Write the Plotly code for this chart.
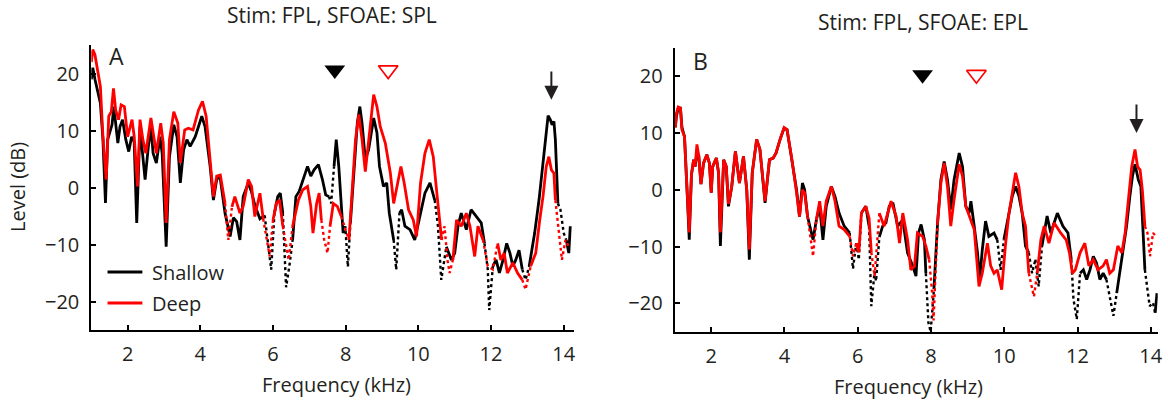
import plotly.graph_objects as go

# ---------------- data ----------------
# Panel A: Stim FPL, SFOAE in SPL
a_shallow_f = [1.00, 1.04, 1.10, 1.18, 1.25, 1.32, 1.39, 1.45, 1.52, 1.57, 1.62, 1.67, 1.73, 1.79, 1.86, 1.95,
               2.03, 2.11, 2.18, 2.25, 2.34, 2.41, 2.48, 2.57, 2.64, 2.70, 2.79, 2.89, 2.95, 3.06, 3.15, 3.27,
               3.36, 3.45, 3.54, 3.63, 3.72, 3.86, 4.04, 4.13, 4.27, 4.36, 4.45, 4.54, 4.68, 4.82, 4.91, 5.00,
               5.09, 5.18, 5.32, 5.41, 5.50, 5.64, 5.77, 5.86, 5.95, 6.04, 6.13, 6.20, 6.27, 6.36, 6.45, 6.54,
               6.63, 6.72, 6.82, 6.95, 7.04, 7.13, 7.25, 7.36, 7.45, 7.54, 7.60, 7.68, 7.74, 7.81, 7.88, 7.93,
               7.99, 8.06, 8.13, 8.23, 8.32, 8.39, 8.45, 8.54, 8.63, 8.77, 8.86, 8.93, 9.04, 9.13, 9.20, 9.32,
               9.39, 9.48, 9.54, 9.63, 9.77, 9.90, 10.04, 10.18, 10.32, 10.45, 10.54, 10.63, 10.77, 10.91, 11.00,
               11.09, 11.18, 11.32, 11.45, 11.59, 11.73, 11.82, 11.91, 11.95, 12.05, 12.14, 12.23, 12.33, 12.43,
               12.52, 12.60, 12.68, 12.77, 12.86, 12.95, 13.05, 13.13, 13.20, 13.32, 13.41, 13.50, 13.57, 13.63,
               13.68, 13.73, 13.77, 13.84, 13.91, 14.00, 14.07, 14.14, 14.18]
a_shallow_db = [19.0, 21.0, 19.0, 17.0, 14.8, 8.4, -2.7, 8.4, 10.1, 11.0, 14.2, 10.7, 7.8, 10.7, 11.9, 8.4,
                6.3, 8.9, 8.0, -6.2, 10.7, 6.0, 1.4, 7.2, 10.7, 6.0, 4.3, 8.9, 6.0, -10.4, 5.4, 11.0,
                8.9, 0.8, 6.6, 8.4, 7.2, 8.9, 12.5, 10.7, 3.7, -2.2, 1.4, 2.0, -4.5, -8.6, -5.3, -6.0,
                -9.2, -1.6, 0.8, -0.8, -3.1, -5.5, -4.9, -9.2, -14.4, -4.5, -1.6, -1.0, -4.5, -17.5, -13.8, -9.2,
                -1.6, -0.7, 1.4, 3.7, 2.0, 3.1, 4.0, 1.4, -1.3, -1.6, -2.8, 3.7, 8.4, 3.7, -4.5, -8.0,
                -6.8, -13.9, -6.2, 2.5, 11.3, 14.2, 11.3, 4.9, 6.6, 12.2, 9.6, 3.7, 0.2, 0.8, -4.5, -9.2,
                -14.4, -4.5, -3.9, -6.8, -7.4, -9.2, -5.1, -1.0, 0.8, -2.2, -6.8, -16.2, -10.4, -12.7, -11.5,
                -6.8, -4.5, -7.4, -3.9, -5.1, -6.2, -9.8, -14.4, -21.5, -13.8, -12.7, -15.0, -12.7, -9.8,
                -11.5, -13.8, -12.7, -11.0, -14.4, -16.2, -13.8, -11.0, -8.0, -2.2, 3.1, 9.5, 12.6, 11.9,
                11.0, 11.6, 8.4, -2.8, -3.9, -8.0, -9.2, -11.5, -6.8]
a_shallow_dotted = [(5.82, 5.97), (6.33, 6.47), (7.58, 7.62), (7.97, 8.08), (9.37, 9.41), (10.52, 10.65),
                    (11.89, 11.97), (12.93, 12.97), (13.89, 14.02)]

a_deep_f = [1.00, 1.04, 1.10, 1.18, 1.25, 1.32, 1.41, 1.48, 1.55, 1.61, 1.67, 1.75, 1.82, 1.91, 2.00, 2.12,
            2.18, 2.27, 2.34, 2.42, 2.50, 2.64, 2.72, 2.79, 2.91, 2.98, 3.06, 3.15, 3.27, 3.38, 3.45, 3.57,
            3.67, 3.80, 3.95, 4.06, 4.16, 4.27, 4.36, 4.45, 4.55, 4.68, 4.77, 4.87, 4.95, 5.09, 5.18, 5.32,
            5.41, 5.50, 5.64, 5.73, 5.82, 5.91, 6.00, 6.09, 6.18, 6.27, 6.43, 6.54, 6.63, 6.70, 6.82, 6.95,
            7.04, 7.10, 7.20, 7.27, 7.33, 7.41, 7.50, 7.57, 7.66, 7.77, 7.88, 7.97, 8.09, 8.18, 8.27, 8.36,
            8.45, 8.54, 8.63, 8.77, 8.86, 8.95, 9.09, 9.23, 9.32, 9.42, 9.52, 9.61, 9.73, 9.86, 9.95, 10.06,
            10.18, 10.30, 10.41, 10.50, 10.64, 10.72, 10.80, 10.86, 10.95, 11.05, 11.18, 11.32, 11.42, 11.55,
            11.64, 11.78, 11.91, 12.05, 12.18, 12.27, 12.36, 12.45, 12.60, 12.73, 12.86, 12.95, 13.09, 13.23,
            13.34, 13.43, 13.52, 13.59, 13.66, 13.73, 13.77, 13.86, 13.95, 14.05, 14.14]
a_deep_db = [22.0, 24.2, 23.3, 20.0, 17.7, 9.0, 1.4, 12.5, 13.3, 17.4, 13.6, 11.9, 14.5, 14.2, 8.9, 11.9,
             9.0, 0.2, 11.9, 8.4, 6.0, 12.2, 8.4, 6.0, 11.3, 7.8, -6.2, 8.4, 13.3, 11.3, 4.3, 10.1,
             10.4, 10.1, 13.6, 15.1, 12.5, 4.8, -1.6, 2.0, 2.2, -2.8, -9.2, -3.4, -1.6, -4.5, -3.3, 1.4,
             0.2, -5.1, -1.0, -5.5, -9.2, -12.1, -5.7, -2.8, -2.2, -6.8, -12.7, -6.8, -4.5, -2.2, -0.4, 0.2,
             -3.3, -8.0, -2.8, -1.0, -5.7, -9.2, -11.5, -6.8, -2.8, -3.3, -5.1, -6.8, -9.2, -1.0, 8.4, 12.8,
             8.4, 2.8, 8.4, 16.3, 14.2, 10.7, 7.8, 2.5, -2.8, 0.2, 3.7, 0.8, -3.9, -5.7, -8.6, 0.8,
             6.0, 8.4, 5.4, -0.4, -9.2, -6.8, -12.7, -15.0, -12.7, -5.7, -6.8, -4.5, -6.8, -12.1,
             -6.8, -9.2, -13.8, -14.4, -9.8, -12.7, -11.5, -15.0, -13.2, -15.0, -16.2, -17.9, -13.8, -11.5,
             -5.7, -1.6, 3.7, 5.4, 3.1, 2.5, -2.2, -7.4, -12.7, -9.2, -10.4]
a_deep_dotted = [(4.75, 4.79), (5.80, 5.93), (6.40, 6.45), (7.39, 7.52), (7.95, 7.99), (10.70, 10.88),
                 (11.89, 12.07), (12.93, 12.97), (13.84, 14.20)]

# Panel B: Stim FPL, SFOAE in EPL
b_shallow_f = [1.02, 1.05, 1.10, 1.16, 1.20, 1.27, 1.34, 1.40, 1.46, 1.52, 1.56, 1.61, 1.66, 1.72, 1.79, 1.88,
               1.95, 2.00, 2.04, 2.14, 2.20, 2.25, 2.34, 2.41, 2.47, 2.56, 2.66, 2.77, 2.88, 2.97, 3.04, 3.12,
               3.24, 3.33, 3.47, 3.59, 3.69, 3.77, 3.88, 3.99, 4.07, 4.19, 4.33, 4.41, 4.49, 4.55, 4.63, 4.78,
               4.87, 4.96, 5.05, 5.14, 5.28, 5.38, 5.49, 5.63, 5.78, 5.87, 5.96, 6.03, 6.10, 6.22, 6.31, 6.37,
               6.46, 6.50, 6.59, 6.68, 6.77, 6.86, 6.96, 7.09, 7.23, 7.36, 7.50, 7.59, 7.66, 7.73, 7.82, 7.86,
               7.93, 7.99, 8.08, 8.18, 8.27, 8.36, 8.45, 8.54, 8.63, 8.77, 8.86, 8.95, 9.04, 9.09, 9.18, 9.27,
               9.33, 9.40, 9.49, 9.58, 9.72, 9.81, 9.90, 9.99, 10.08, 10.22, 10.31, 10.40, 10.49, 10.58, 10.67,
               10.76, 10.85, 10.94, 11.03, 11.17, 11.27, 11.45, 11.60, 11.74, 11.83, 11.89, 11.98, 12.07, 12.16,
               12.25, 12.34, 12.43, 12.52, 12.61, 12.70, 12.79, 12.88, 12.98, 13.07, 13.16, 13.25, 13.34, 13.43,
               13.50, 13.57, 13.66, 13.73, 13.79, 13.84, 13.90, 13.97, 14.06, 14.12, 14.17]
b_shallow_db = [11.0, 13.0, 14.4, 14.4, 11.0, 9.4, 0.0, -8.8, 2.7, 5.3, 4.1, 6.5, 6.0, 1.0, 4.7, 6.2,
                4.7, -0.5, 4.1, 5.6, 3.0, -9.9, 5.3, 4.1, -2.9, 0.6, 6.8, 1.2, 5.9, 0.0, -12.3, 3.0,
                8.9, 7.1, -2.3, 5.3, 5.6, 6.5, 8.9, 10.9, 10.6, 5.9, 0.0, -4.7, 1.2, 0.0, -4.7, -8.8,
                -5.3, -2.9, -8.8, -2.9, 0.6, -1.2, -4.1, -6.4, -7.6, -13.9, -9.4, -12.3, -4.1, -2.9, -6.4, -20.5,
                -14.4, -16.1, -8.3, -6.4, -5.8, -2.9, -2.3, -6.4, -5.3, -11.1, -13.4, -15.2, -7.6, -6.1, -8.8, -14.7,
                -23.4, -25.0, -17.5, -5.8, 1.8, 5.0, 1.8, -3.5, 1.8, 6.5, 4.1, -2.9, -4.1, -2.0, -6.4, -11.1,
                -15.8, -10.6, -5.5, -8.2, -7.6, -8.8, -14.1, -8.8, -5.8, -1.1, 0.6, -1.1, -4.1, -9.9, -11.1,
                -14.7, -12.3, -17.0, -9.9, -4.6, -7.6, -4.1, -6.4, -7.6, -12.3, -19.3, -22.8, -14.7, -14.1,
                -15.8, -14.1, -11.7, -12.9, -15.8, -14.7, -15.8, -18.8, -22.2, -18.2, -14.1, -10.6, -6.4, -1.1,
                2.4, 4.5, 1.8, 0.6, -6.4, -14.1, -17.0, -20.5, -19.9, -21.7, -18.2]
b_shallow_dotted = [(5.85, 5.89), (6.01, 6.05), (6.35, 6.39), (6.48, 6.52), (7.91, 8.01), (9.88, 9.92),
                    (10.74, 10.78), (10.92, 10.96), (11.87, 12.00), (12.86, 13.00), (13.88, 14.08)]

b_deep_f = [1.02, 1.05, 1.10, 1.16, 1.20, 1.27, 1.34, 1.40, 1.46, 1.52, 1.56, 1.61, 1.66, 1.72, 1.79, 1.88,
            1.95, 2.00, 2.04, 2.14, 2.20, 2.25, 2.34, 2.41, 2.47, 2.56, 2.66, 2.77, 2.88, 2.97, 3.04, 3.12,
            3.24, 3.33, 3.47, 3.59, 3.69, 3.77, 3.88, 3.99, 4.07, 4.19, 4.33, 4.41, 4.49, 4.55, 4.63, 4.78,
            4.87, 4.96, 5.05, 5.14, 5.28, 5.38, 5.49, 5.63, 5.78, 5.87, 5.96, 6.03, 6.10, 6.22, 6.31, 6.37,
            6.46, 6.59, 6.72, 6.91, 7.05, 7.14, 7.23, 7.36, 7.45, 7.55, 7.63, 7.77, 7.86, 7.95, 8.03, 8.07,
            8.12, 8.18, 8.27, 8.36, 8.45, 8.54, 8.63, 8.77, 8.86, 8.95, 9.09, 9.18, 9.31, 9.40, 9.54, 9.63,
            9.72, 9.81, 9.93, 10.03, 10.13, 10.22, 10.31, 10.40, 10.49, 10.58, 10.67, 10.81, 10.90, 11.00,
            11.09, 11.22, 11.36, 11.54, 11.69, 11.78, 11.86, 11.94, 12.07, 12.20, 12.31, 12.43, 12.56, 12.70,
            12.79, 12.88, 12.98, 13.10, 13.21, 13.30, 13.39, 13.48, 13.57, 13.64, 13.71, 13.77, 13.84, 13.91,
            13.98, 14.06, 14.15]
b_deep_db = [11.0, 13.5, 14.6, 14.4, 10.6, 9.4, 0.0, -7.5, 2.7, 5.3, 4.1, 8.0, 6.0, 1.0, 4.7, 6.2,
             4.7, -0.5, 4.1, 5.6, 3.0, -7.5, 5.3, 4.1, -2.5, 0.6, 6.8, 1.2, 5.9, 0.0, -10.5, 3.0,
             8.9, 7.1, -2.0, 5.3, 5.6, 6.5, 8.9, 11.0, 10.6, 5.9, -0.5, -4.7, 0.0, -0.5, -4.7, -11.7,
             -5.3, -2.0, -6.4, -2.0, 0.6, -2.0, -6.4, -7.0, -8.2, -11.7, -9.4, -11.0, -4.1, -2.9, -5.0, -11.0,
             -15.2, -4.1, -6.4, -2.0, -4.7, -9.4, -4.1, -8.8, -14.1, -13.4, -7.6, -8.2, -9.9, -12.3, -18.0, -23.0,
             -15.0, -5.8, 1.2, 4.7, 0.6, -6.4, -1.7, 4.5, 2.4, -2.9, -5.3, -7.0, -17.0, -14.7, -9.4, -13.4,
             -14.7, -14.1, -17.6, -9.9, -4.1, -0.5, 3.0, 0.6, -4.1, -6.4, -14.7, -18.8, -14.7, -8.8,
             -6.4, -9.4, -5.8, -7.6, -8.8, -11.1, -14.7, -14.1, -11.1, -9.4, -13.4, -12.3, -14.1, -13.4,
             -12.3, -14.7, -14.1, -9.9, -11.1, -7.6, -1.7, 4.1, 7.1, 4.1, 3.5, 0.0, -6.4, -7.6,
             -11.7, -7.6, -8.2]
b_deep_dotted = [(4.76, 4.80), (5.85, 5.89), (6.44, 6.48), (8.01, 8.14), (10.79, 10.83), (13.89, 14.20)]

x_ticks = [2, 4, 6, 8, 10, 12, 14]
y_ticks = [-20, -10, 0, 10, 20]

# marker positions (kHz, dB)
a_tri_black = (7.70, 20.6)
a_tri_red = (9.17, 20.6)
a_arrow = (13.66, 20.6, 15.4)
b_tri_black = (7.77, 20.3)
b_tri_red = (9.24, 20.3)
b_arrow = (13.61, 15.3, 10.0)

# ---------------- figure ----------------
W, H = 1168, 402
FONT = "Open Sans, Noto Sans, DejaVu Sans, sans-serif"
TEXT = "#231f20"
BLACK = "#000000"
RED = "#ff0000"
LW = 2.8


def in_spans(f, spans):
    return any(a <= f <= b for a, b in spans)


def split_runs(freq, level, spans):
    """Return (solid x, solid y, dotted x, dotted y) with None breaks."""
    flag = [in_spans(f, spans) for f in freq]
    sx = list(freq)
    sy = [None if d else v for d, v in zip(flag, level)]
    dx, dy = [], []
    n = len(freq)
    i = 0
    while i < n:
        if flag[i]:
            j = i
            while j + 1 < n and flag[j + 1]:
                j += 1
            lo, hi = max(i - 1, 0), min(j + 1, n - 1)
            dx += list(freq[lo:hi + 1]) + [None]
            dy += list(level[lo:hi + 1]) + [None]
            i = j + 1
        else:
            i += 1
    return sx, sy, dx, dy


fig = go.Figure()


def add_series(freq, level, spans, color, xa, ya):
    sx, sy, dx, dy = split_runs(freq, level, spans)
    fig.add_trace(go.Scatter(x=dx, y=dy, mode="lines", xaxis=xa, yaxis=ya,
                             line=dict(color=color, width=2.4, dash="dot"),
                             showlegend=False, hoverinfo="skip"))
    fig.add_trace(go.Scatter(x=sx, y=sy, mode="lines", xaxis=xa, yaxis=ya,
                             line=dict(color=color, width=LW),
                             showlegend=False, connectgaps=False))


add_series(a_shallow_f, a_shallow_db, a_shallow_dotted, BLACK, "x", "y")
add_series(a_deep_f, a_deep_db, a_deep_dotted, RED, "x", "y")
add_series(b_shallow_f, b_shallow_db, b_shallow_dotted, BLACK, "x2", "y2")
add_series(b_deep_f, b_deep_db, b_deep_dotted, RED, "x2", "y2")

# triangle markers
for (xa, ya, blk, red) in [("x", "y", a_tri_black, a_tri_red), ("x2", "y2", b_tri_black, b_tri_red)]:
    fig.add_trace(go.Scatter(x=[blk[0]], y=[blk[1]], mode="markers", xaxis=xa, yaxis=ya,
                             marker=dict(symbol="triangle-down", size=18, color=BLACK, line=dict(width=0)),
                             showlegend=False, cliponaxis=False))
    fig.add_trace(go.Scatter(x=[red[0]], y=[red[1]], mode="markers", xaxis=xa, yaxis=ya,
                             marker=dict(symbol="triangle-down-open", size=17, color=RED,
                                         line=dict(width=1.6, color=RED)),
                             showlegend=False, cliponaxis=False))

axis_common = dict(showline=True, linecolor=BLACK, linewidth=2, mirror=False,
                   showgrid=False, zeroline=False, ticks="inside", ticklen=5, tickwidth=2,
                   tickcolor=BLACK, tickfont=dict(family=FONT, size=20, color=TEXT))

fig.update_layout(
    width=W, height=H,
    margin=dict(l=0, r=0, t=0, b=0),
    paper_bgcolor="white", plot_bgcolor="white",
    font=dict(family=FONT, color=TEXT),
    xaxis=dict(domain=[91.7 / W, 576 / W], range=[1.0, 14.27], tickvals=x_ticks,
               anchor="y", ticklabelstandoff=5, **axis_common),
    yaxis=dict(domain=[(H - 330) / H, (H - 45) / H], range=[-25, 25], tickvals=y_ticks,
               anchor="x", ticklabelstandoff=6, **axis_common),
    xaxis2=dict(domain=[677.5 / W, 1162.7 / W], range=[1.0, 14.19], tickvals=x_ticks,
                anchor="y2", ticklabelstandoff=5, **axis_common),
    yaxis2=dict(domain=[(H - 331.7) / H, (H - 48) / H], range=[-25, 25], tickvals=y_ticks,
                anchor="x2", ticklabelstandoff=6, **axis_common),
)


def label(text, px, py, size, **kw):
    d = dict(text=text, x=px / W, y=(H - py) / H, xref="paper", yref="paper",
             xanchor="center", yanchor="middle", showarrow=False,
             font=dict(size=size, family=FONT, color=TEXT))
    d.update(kw)
    return d


ann = [
    label("Stim: FPL, SFOAE: SPL", 333, 15, 21),
    label("Stim: FPL, SFOAE: EPL", 927, 22, 21),
    label("A", 117.5, 55.5, 23),
    label("B", 703.7, 60.5, 23),
    label("Frequency (kHz)", 338, 384, 20),
    label("Frequency (kHz)", 912, 386, 20),
    label("Level (dB)", 17, 187, 20, textangle=-90),
    label("Shallow", 151, 272, 20, xanchor="left"),
    label("Deep", 151, 303, 20, xanchor="left"),
]
# arrows
for (xr, yr, arr) in [("x", "y", a_arrow), ("x2", "y2", b_arrow)]:
    ann.append(dict(x=arr[0], y=arr[2], ax=arr[0], ay=arr[1], xref=xr, yref=yr, axref=xr, ayref=yr,
                    text="", showarrow=True, arrowhead=2, arrowsize=1.4, arrowwidth=2, arrowcolor=TEXT))
fig.update_layout(annotations=ann)

# legend line samples
fig.update_layout(shapes=[
    dict(type="line", xref="paper", yref="paper", x0=108 / W, x1=143 / W,
         y0=(H - 272) / H, y1=(H - 272) / H, line=dict(color=BLACK, width=LW)),
    dict(type="line", xref="paper", yref="paper", x0=108 / W, x1=143 / W,
         y0=(H - 303) / H, y1=(H - 303) / H, line=dict(color=RED, width=LW)),
])

fig.write_html("out.html")
